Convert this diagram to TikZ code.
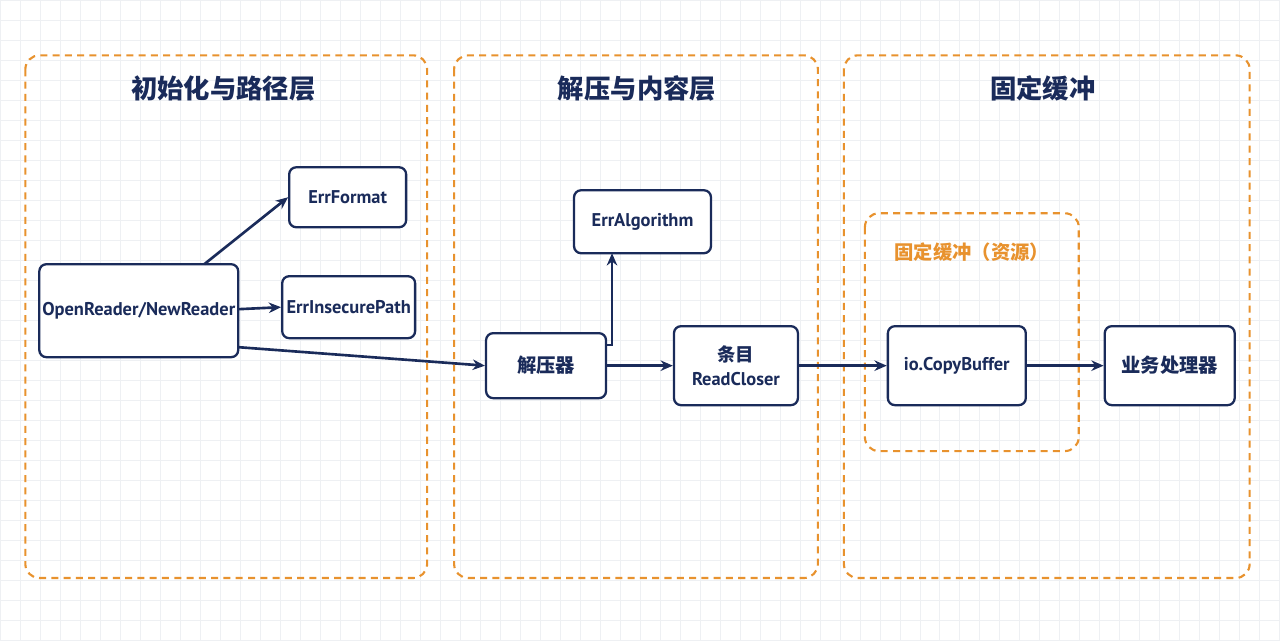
\documentclass[tikz,border=0pt]{standalone}
\usepackage{fontspec}
\setmainfont{PT Sans}
\newfontfamily\cjk{Noto Sans CJK SC}
\usetikzlibrary{arrows.meta}
\definecolor{navy}{HTML}{1A2B5A}
\definecolor{org}{HTML}{E8922E}
\definecolor{gridc}{HTML}{EEF0F3}
\begin{document}
\begin{tikzpicture}[x=0.02cm,y=-0.02cm,
 grp/.style={draw=org,line width=1.2pt,rounded corners=8pt,dash pattern=on 4pt off 3pt},
 box/.style={draw=navy,line width=1.3pt,rounded corners=4pt,fill=white,text=navy,inner sep=1pt,font=\bfseries\fontsize{10.5}{14}\selectfont,align=center},
 ttl/.style={text=navy,font=\cjk\bfseries\fontsize{15}{18}\selectfont},
 arr/.style={draw=navy,line width=1.5pt,-{Stealth[length=7pt,width=6pt]}}]
\fill[white] (0,0) rectangle (1280,640);
\foreach \i in {0,20,...,1280} \draw[gridc,line width=0.4pt] (\i,0) -- (\i,640);
\foreach \j in {0,20,...,640} \draw[gridc,line width=0.4pt] (0,\j) -- (1280,\j);
\useasboundingbox (0,0) rectangle (1280,640);
\draw[grp] (25,55) rectangle (427,578);
\draw[grp] (454,55) rectangle (818,578);
\draw[grp] (844,55) rectangle (1250,578);
\draw[grp] (865,213) rectangle (1079,451);
\node[ttl] (t1) at (223,88) {初始化与路径层};
\node[ttl] (t2) at (637,88) {解压与内容层};
\node[ttl] (t3) at (1043,88) {固定缓冲};
\node[text=org,font=\cjk\bfseries\fontsize{11}{13}\selectfont] (t4) at (972,252) {固定缓冲（资源）};
\node[box,minimum width=199*0.02cm,minimum height=93*0.02cm] (or) at (138.5,310.5) {OpenReader/NewReader};
\coordinate (orT) at (204,264);
\coordinate (orR) at (238,309);
\coordinate (orB) at (238,347);
\node[box,minimum width=117*0.02cm,minimum height=60*0.02cm] (ef) at (347.5,197) {ErrFormat};
\node[box,minimum width=133*0.02cm,minimum height=62*0.02cm] (ei) at (348.5,307) {ErrInsecurePath};
\node[box,minimum width=137*0.02cm,minimum height=63*0.02cm] (ea) at (642.5,221.5) {ErrAlgorithm};
\node[box,font=\cjk\bfseries\fontsize{11}{14}\selectfont,minimum width=120*0.02cm,minimum height=65*0.02cm] (jy) at (546,365.5) {解压器};
\node[box,minimum width=124*0.02cm,minimum height=79*0.02cm] (tm) at (736,365.5) {{\cjk 条目}\\ReadCloser};
\node[box,minimum width=138*0.02cm,minimum height=79*0.02cm] (io) at (957,365.5) {io.CopyBuffer};
\node[box,font=\cjk\bfseries\fontsize{11}{14}\selectfont,minimum width=130*0.02cm,minimum height=79*0.02cm] (yw) at (1170,365.5) {业务处理器};
\coordinate (eaB) at (612,253);
\draw[arr] (orT) -- (ef.west);
\draw[arr] (orR) -- (ei.west);
\draw[arr] (orB) -- (jy.west);
\draw[arr] (jy.east |- 0,345) -| (eaB);
\draw[arr] (jy.east) -- (tm.west);
\draw[arr] (tm.east) -- (io.west);
\draw[arr] (io.east) -- (yw.west);
\end{tikzpicture}
\end{document}
